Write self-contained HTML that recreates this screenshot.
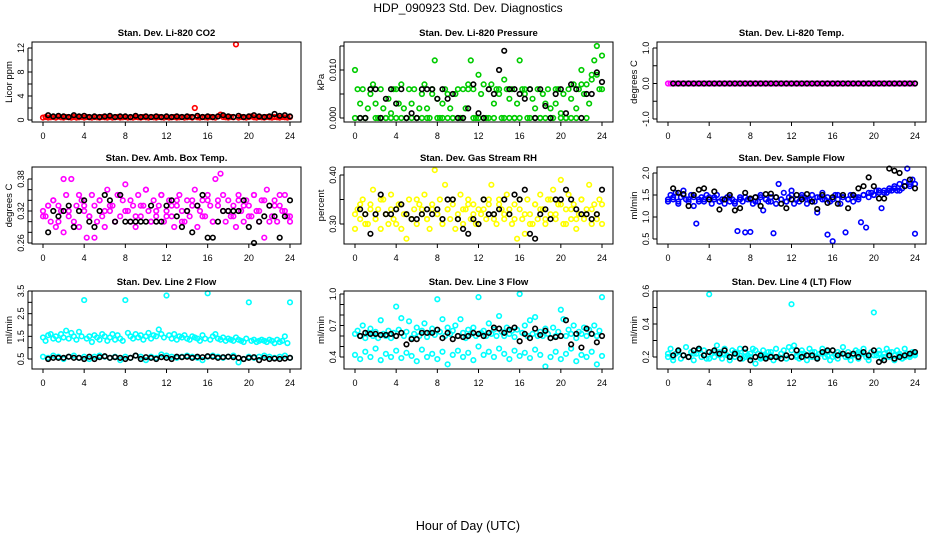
<!DOCTYPE html>
<html><head><meta charset="utf-8"><style>
body{margin:0;background:#fff}
svg{display:block;font-family:"Liberation Sans",sans-serif}
</style></head><body>
<svg id="chart" width="936" height="540" viewBox="0 0 936 540">
<text x="468" y="12" text-anchor="middle" font-size="12">HDP_090923  Std. Dev. Diagnostics</text>
<text x="468" y="530" text-anchor="middle" font-size="12.5">Hour of Day (UTC)</text>
</svg>
<script>
const xTicks=[0,4,8,12,16,20,24];
const co2Red=[0.4,0.5,0.4,0.45,0.5,0.4,0.55,0.45,0.4,0.5,0.45,0.4,0.5,0.4,0.45,0.5,0.4,0.5,0.45,0.4,0.5,0.45,0.4,0.5,0.45,0.4,0.5,0.4,0.45,0.5,0.4,0.45,0.5,0.4,0.45,0.4,0.5,0.45,0.4,0.5,0.45,0.4,0.5,0.45,0.4,0.5,0.45,0.4,0.5,0.4,0.45,0.5,0.4,0.45,0.5,0.4,0.45,0.5,0.4,2.0,0.45,0.4,0.5,0.45,0.4,0.5,0.45,0.4,0.6,0.9,0.5,0.45,0.4,0.5,0.45,12.6,0.4,0.5,0.45,0.4,0.5,0.6,0.45,0.4,0.5,0.45,0.4,0.5,0.45,0.4,0.5,0.45,0.4,0.5,0.45,0.4,0.5];
const co2Black=[0.8,0.6,0.7,0.6,0.5,0.8,0.6,0.7,0.5,0.6,0.5,0.6,0.7,0.5,0.6,0.6,0.5,0.7,0.5,0.6,0.5,0.6,0.5,0.6,0.5,0.6,0.5,0.6,0.5,0.7,0.5,0.6,0.5,0.6,0.8,0.6,0.5,0.7,0.5,0.6,0.8,0.6,0.5,0.6,1.0,0.7,0.8,0.6];
const presGreen=[0.010,0.006,0.003,0.006,0,0.002,0.005,0.007,0.003,0,0.006,0.002,0,0.004,0.001,0.006,0,0.003,0.007,0.002,0,0.006,0.003,0.006,0,0.002,0.005,0.007,0.002,0,0.006,0.012,0.004,0,0.003,0.006,0.005,0.002,0,0.005,0.006,0,0.006,0.002,0.007,0.012,0.006,0,0.009,0.005,0.007,0,0.006,0.007,0.003,0.006,0.005,0,0.008,0.006,0.004,0.006,0,0.003,0.012,0.006,0.005,0,0.006,0.004,0.002,0.006,0,0.005,0.003,0.006,0.002,0,0.003,0.006,0.001,0.005,0,0.006,0.004,0.007,0.002,0.006,0.010,0.005,0.007,0.003,0.009,0.012,0.015,0.006,0.013];
const presGreen2=[0,0,0,0.006,0,0,0,0,0.006,0,0,0,0,0,0,0.005,0,0,0,0,0,0,0.006,0,0,0,0,0,0.006,0,0,0,0,0.006,0,0,0,0,0,0.006,0,0,0,0,0.007,0,0.008,0.009,0.006];
const presBlack=[0,0,0.006,0.006,0,0.004,0.006,0.003,0.006,0,0.001,0,0.006,0.006,0.006,0.004,0.006,0.004,0.005,0,0,0.002,0.007,0.001,0,0.006,0.005,0.010,0.014,0.006,0.006,0.005,0.004,0.006,0,0.006,0.0025,0,0.005,0.006,0.001,0.007,0.006,0,0.005,0.005,0.0095,0.0075];
const tempMag=[0,0,0,0,0,0,0,0,0,0,0,0,0,0,0,0,0,0,0,0,0,0,0,0,0,0,0,0,0,0,0,0,0,0,0,0,0,0,0,0,0,0,0,0,0,0,0,0,0,0,0,0,0,0,0,0,0,0,0,0,0,0,0,0,0,0,0,0,0,0,0,0,0,0,0,0,0,0,0,0,0,0,0,0,0,0,0,0,0,0,0,0,0,0,0,0,0];
const tempBlack=[0,0,0,0,0,0,0,0,0,0,0,0,0,0,0,0,0,0,0,0,0,0,0,0,0,0,0,0,0,0,0,0,0,0,0,0,0,0,0,0,0,0,0,0,0,0,0,0];
const boxMag=[0.32,0.31,0.33,0.30,0.34,0.29,0.33,0.32,0.28,0.35,0.31,0.38,0.30,0.33,0.29,0.34,0.32,0.27,0.31,0.35,0.33,0.30,0.34,0.31,0.29,0.36,0.32,0.33,0.30,0.35,0.31,0.34,0.37,0.32,0.30,0.33,0.29,0.35,0.31,0.33,0.36,0.32,0.30,0.34,0.31,0.33,0.35,0.30,0.32,0.34,0.31,0.29,0.33,0.35,0.32,0.30,0.34,0.31,0.33,0.36,0.29,0.32,0.34,0.31,0.35,0.33,0.30,0.38,0.34,0.39,0.32,0.30,0.34,0.31,0.33,0.29,0.35,0.32,0.30,0.34,0.33,0.31,0.35,0.32,0.30,0.34,0.27,0.36,0.33,0.31,0.34,0.30,0.33,0.32,0.35,0.31,0.30];
const boxMag2=[0.31,0.33,0.34,0.30,0.38,0.32,0.29,0.35,0.33,0.31,0.27,0.34,0.32,0.33,0.30,0.35,0.32,0.34,0.31,0.33,0.36,0.30,0.32,0.35,0.31,0.33,0.34,0.30,0.32,0.34,0.33,0.31,0.34,0.30,0.33,0.35,0.32,0.31,0.34,0.33,0.31,0.35,0.32,0.34,0.30,0.33,0.35,0.32,0.31];
const boxBlack=[0.28,0.32,0.31,0.32,0.33,0.29,0.32,0.34,0.30,0.29,0.32,0.35,0.34,0.30,0.35,0.30,0.30,0.30,0.30,0.30,0.33,0.30,0.30,0.33,0.34,0.31,0.29,0.32,0.28,0.33,0.35,0.27,0.27,0.30,0.32,0.32,0.32,0.32,0.34,0.29,0.26,0.30,0.31,0.33,0.31,0.27,0.31,0.34];
const rhYel=[0.29,0.33,0.31,0.35,0.32,0.30,0.34,0.37,0.31,0.33,0.29,0.35,0.32,0.30,0.36,0.31,0.33,0.34,0.29,0.32,0.27,0.35,0.31,0.33,0.30,0.34,0.32,0.36,0.31,0.29,0.33,0.41,0.32,0.35,0.30,0.38,0.33,0.31,0.34,0.29,0.32,0.36,0.30,0.33,0.35,0.31,0.34,0.30,0.33,0.32,0.35,0.31,0.34,0.38,0.32,0.30,0.35,0.33,0.31,0.36,0.32,0.30,0.34,0.27,0.33,0.31,0.28,0.35,0.32,0.30,0.34,0.31,0.36,0.33,0.30,0.35,0.32,0.37,0.31,0.34,0.39,0.30,0.33,0.36,0.31,0.34,0.29,0.32,0.35,0.31,0.33,0.38,0.30,0.34,0.32,0.35,0.30];
const rhYel2=[0.32,0.34,0.30,0.33,0.31,0.35,0.32,0.33,0.30,0.34,0.32,0.31,0.35,0.33,0.31,0.34,0.32,0.30,0.33,0.35,0.31,0.33,0.34,0.32,0.30,0.33,0.35,0.31,0.34,0.32,0.33,0.31,0.35,0.32,0.30,0.34,0.33,0.31,0.35,0.32,0.34,0.30,0.33,0.31,0.35,0.32,0.33,0.31,0.34];
const rhBlack=[0.33,0.32,0.28,0.32,0.36,0.32,0.32,0.33,0.34,0.32,0.31,0.31,0.32,0.33,0.32,0.33,0.31,0.35,0.35,0.31,0.29,0.28,0.31,0.30,0.35,0.32,0.32,0.33,0.35,0.32,0.36,0.35,0.37,0.28,0.27,0.32,0.33,0.31,0.35,0.35,0.37,0.35,0.33,0.32,0.32,0.31,0.32,0.37];
const flowBlue=[1.35,1.5,1.4,1.55,1.3,1.45,1.6,1.4,1.35,1.5,1.25,0.85,1.4,1.45,1.35,1.5,1.4,1.3,1.45,1.5,1.35,1.4,1.3,1.45,1.35,1.4,1.3,0.68,1.45,1.35,0.65,1.4,0.66,1.3,1.45,1.35,1.5,1.15,1.4,1.35,1.45,0.63,1.3,1.75,1.4,1.55,1.35,1.45,1.6,1.3,1.4,1.35,1.5,1.45,1.3,1.4,1.5,1.35,1.1,1.45,1.55,1.4,0.6,1.35,0.45,1.5,1.4,1.3,1.45,0.65,1.4,1.5,1.35,1.45,1.4,0.88,1.5,0.76,1.45,1.55,1.5,1.6,1.55,1.2,1.6,1.55,1.65,1.6,1.7,1.6,1.75,1.65,1.8,2.1,1.75,1.85,0.62];
const flowBlue2=[1.4,1.45,1.35,1.5,1.4,1.45,1.35,1.4,1.45,1.4,1.35,1.4,1.45,1.35,1.4,1.45,1.4,1.35,1.45,1.4,1.35,1.45,1.4,1.35,1.5,1.4,1.45,1.4,1.35,1.45,1.4,1.45,1.4,1.5,1.45,1.4,1.5,1.45,1.5,1.55,1.5,1.6,1.55,1.6,1.65,1.6,1.7,1.7,1.75];
const flowBlack=[1.65,1.55,1.52,1.25,1.5,1.62,1.65,1.4,1.58,1.17,1.4,1.5,1.15,1.2,1.55,1.42,1.45,1.25,1.52,1.53,1.45,1.3,1.2,1.4,1.5,1.4,1.52,1.35,1.18,1.5,1.32,1.45,1.3,1.5,1.2,1.5,1.65,1.7,1.9,1.7,1.42,1.42,2.1,2.05,2.0,1.7,1.85,1.65];
const l2Cyan=[1.45,1.3,1.55,1.6,1.4,1.5,1.35,1.6,1.45,1.75,1.4,1.65,1.5,1.35,1.7,1.5,3.1,1.4,1.5,1.25,1.55,1.45,1.35,1.6,1.5,1.3,1.45,1.6,1.35,1.55,1.4,1.3,3.1,1.65,1.5,1.4,1.6,1.45,1.55,1.35,1.5,1.65,1.4,1.55,1.5,1.8,1.6,1.45,3.3,1.55,1.4,1.6,1.35,1.5,1.45,1.55,1.4,1.35,1.5,1.45,1.4,1.3,1.55,1.4,3.4,1.35,1.5,1.6,1.4,1.35,1.45,1.3,1.4,1.35,1.3,1.45,1.35,1.3,1.25,1.4,3.0,1.3,1.35,1.25,1.3,1.35,1.3,1.25,1.35,1.3,1.2,1.35,1.25,1.3,1.5,1.2,3.0];
const l2Cyan2=[0.6,0.55,0.65,0.6,0.5,0.6,0.65,0.55,0.6,0.5,0.6,0.65,0.6,0.55,0.6,0.45,0.6,0.55,0.65,0.6,0.45,0.6,0.55,0.7,0.65,0.6,0.55,0.6,0.65,0.6,0.55,0.45,0.6,0.65,0.6,0.55,0.6,0.65,0.35,0.5,0.6,0.55,0.6,0.65,0.6,0.55,0.6,0.65,0.55];
const l2Black=[0.5,0.55,0.55,0.55,0.6,0.55,0.55,0.5,0.6,0.5,0.58,0.62,0.55,0.58,0.55,0.5,0.55,0.65,0.5,0.58,0.55,0.5,0.58,0.55,0.5,0.6,0.58,0.6,0.55,0.6,0.58,0.62,0.6,0.55,0.58,0.6,0.58,0.55,0.5,0.55,0.58,0.45,0.55,0.5,0.52,0.5,0.52,0.55];
const l3Cyan=[0.62,0.65,0.6,0.7,0.58,0.63,0.67,0.6,0.64,0.58,0.75,0.62,0.6,0.65,0.58,0.63,0.88,0.66,0.77,0.6,0.64,0.74,0.58,0.62,0.68,0.6,0.65,0.72,0.59,0.63,0.67,0.61,0.95,0.64,0.76,0.6,0.68,0.62,0.65,0.7,0.6,0.76,0.63,0.58,0.66,0.62,0.68,0.6,0.97,0.63,0.65,0.6,0.72,0.62,0.66,0.6,0.79,0.64,0.6,0.68,0.62,0.65,0.59,0.66,1.0,0.63,0.7,0.6,0.75,0.62,0.78,0.6,0.64,0.6,0.67,0.62,0.58,0.68,0.6,0.64,0.85,0.76,0.6,0.66,0.62,0.7,0.58,0.64,0.62,0.68,0.6,0.66,0.62,0.7,0.6,0.65,0.97];
const l3Cyan2=[0.42,0.38,0.45,0.4,0.48,0.37,0.43,0.4,0.46,0.39,0.44,0.41,0.36,0.47,0.4,0.43,0.38,0.45,0.33,0.42,0.46,0.4,0.44,0.37,0.5,0.42,0.45,0.4,0.48,0.43,0.38,0.46,0.41,0.44,0.39,0.47,0.42,0.31,0.4,0.45,0.38,0.43,0.48,0.36,0.42,0.4,0.45,0.33,0.41];
const l3Black=[0.6,0.63,0.62,0.62,0.61,0.61,0.62,0.6,0.63,0.52,0.57,0.57,0.63,0.63,0.63,0.66,0.58,0.63,0.57,0.6,0.59,0.6,0.63,0.62,0.6,0.63,0.68,0.67,0.63,0.66,0.68,0.55,0.62,0.58,0.67,0.61,0.65,0.58,0.59,0.6,0.75,0.52,0.62,0.49,0.67,0.62,0.54,0.6];
const l4Cyan=[0.2,0.25,0.18,0.22,0.24,0.19,0.21,0.26,0.2,0.23,0.18,0.22,0.25,0.2,0.24,0.19,0.58,0.22,0.2,0.27,0.23,0.19,0.25,0.21,0.18,0.24,0.2,0.22,0.25,0.19,0.23,0.21,0.2,0.25,0.16,0.22,0.19,0.24,0.2,0.23,0.21,0.18,0.25,0.2,0.22,0.24,0.19,0.26,0.52,0.27,0.21,0.19,0.24,0.22,0.18,0.25,0.2,0.23,0.19,0.22,0.25,0.2,0.23,0.18,0.24,0.21,0.19,0.22,0.26,0.2,0.23,0.18,0.21,0.24,0.19,0.22,0.25,0.2,0.18,0.23,0.47,0.21,0.24,0.19,0.22,0.25,0.2,0.23,0.18,0.24,0.21,0.19,0.25,0.22,0.2,0.23,0.21];
const l4Cyan2=[0.22,0.2,0.23,0.21,0.2,0.22,0.24,0.21,0.19,0.23,0.21,0.22,0.2,0.23,0.21,0.2,0.22,0.24,0.2,0.21,0.23,0.2,0.22,0.21,0.24,0.2,0.22,0.21,0.23,0.2,0.22,0.21,0.2,0.23,0.22,0.2,0.21,0.23,0.22,0.2,0.21,0.22,0.2,0.23,0.21,0.22,0.2,0.21,0.22];
const l4Black=[0.21,0.24,0.21,0.2,0.24,0.25,0.21,0.23,0.24,0.22,0.24,0.2,0.22,0.19,0.25,0.18,0.2,0.21,0.19,0.2,0.2,0.19,0.21,0.2,0.24,0.2,0.21,0.21,0.19,0.23,0.24,0.24,0.21,0.22,0.21,0.22,0.2,0.23,0.21,0.24,0.17,0.18,0.21,0.19,0.2,0.21,0.22,0.23];

const NS='http://www.w3.org/2000/svg';
const svg=document.getElementById('chart');
function mk(tag,attrs,parent){const e=document.createElementNS(NS,tag);for(const k in attrs)e.setAttribute(k,attrs[k]);(parent||svg).appendChild(e);return e;}
const colX=[43,355,668], rowB=[[42,122],[167,244],[291,369]];
const panels=[
 {t:'Stan. Dev. Li-820 CO2',yl:'Licor ppm',c:'#ff0000',s:[co2Red],b:co2Black,y0:0,y0p:120,y1:12,y1p:48,ticks:[0,2,4,6,8,10,12],labs:[0,4,8,12],fmt:v=>String(v)},
 {t:'Stan. Dev. Li-820 Pressure',yl:'kPa',c:'#00cc00',s:[presGreen2,presGreen],b:presBlack,y0:0,y0p:118,y1:0.01,y1p:70,ticks:[0,0.005,0.01,0.015],labs:[0,0.01],fmt:v=>v.toFixed(3)},
 {t:'Stan. Dev. Li-820 Temp.',yl:'degrees C',c:'#ff00ff',s:[tempMag],b:tempBlack,y0:-1,y0p:119,y1:1,y1p:48,ticks:[-1,-0.5,0,0.5,1],labs:[-1,0,1],fmt:v=>v.toFixed(1)},
 {t:'Stan. Dev. Amb. Box Temp.',yl:'degrees C',c:'#ff00ff',s:[boxMag,boxMag2],b:boxBlack,y0:0.26,y0p:243,y1:0.38,y1p:179,ticks:[0.26,0.28,0.30,0.32,0.34,0.36,0.38],labs:[0.26,0.32,0.38],fmt:v=>v.toFixed(2)},
 {t:'Stan. Dev. Gas Stream RH',yl:'percent',c:'#ffff00',s:[rhYel,rhYel2],b:rhBlack,y0:0.30,y0p:224,y1:0.40,y1p:175,ticks:[0.30,0.35,0.40],labs:[0.30,0.40],fmt:v=>v.toFixed(2)},
 {t:'Stan. Dev. Sample Flow',yl:'ml/min',c:'#0000ff',s:[flowBlue,flowBlue2],b:flowBlack,y0:0.5,y0p:239,y1:2.0,y1p:173,ticks:[0.5,1,1.5,2],labs:[0.5,1,1.5,2],fmt:v=>v.toFixed(1)},
 {t:'Stan. Dev. Line 2 Flow',yl:'ml/min',c:'#00ffff',s:[l2Cyan,l2Cyan2],b:l2Black,y0:0.5,y0p:359,y1:3.5,y1p:291,ticks:[0.5,1,1.5,2,2.5,3,3.5],labs:[0.5,1.5,2.5,3.5],fmt:v=>v.toFixed(1)},
 {t:'Stan. Dev. Line 3 Flow',yl:'ml/min',c:'#00ffff',s:[l3Cyan,l3Cyan2],b:l3Black,y0:0.4,y0p:357,y1:1.0,y1p:294,ticks:[0.4,0.5,0.6,0.7,0.8,0.9,1.0],labs:[0.4,0.7,1.0],fmt:v=>v.toFixed(1)},
 {t:'Stan. Dev. Line 4 (LT) Flow',yl:'ml/min',c:'#00ffff',s:[l4Cyan,l4Cyan2],b:l4Black,y0:0.2,y0p:357,y1:0.6,y1p:291,ticks:[0.2,0.3,0.4,0.5,0.6],labs:[0.2,0.4,0.6],fmt:v=>v.toFixed(1)}
];
panels.forEach((p,i)=>{
 const col=i%3,row=Math.floor(i/3);
 const x0=colX[col],xs=x=>x0+x*(247/24);
 const top=rowB[row][0],bot=rowB[row][1],L=x0-11,R=x0+247+11;
 const ys=v=>p.y0p+(v-p.y0)*(p.y1p-p.y0p)/(p.y1-p.y0);
 const g=mk('g',{});
 
 
 const tt=mk('text',{x:(L+R)/2,y:top-6,'text-anchor':'middle','font-size':'9.5','font-weight':'bold'},g);tt.textContent=p.t;
 
 
 const yl=mk('text',{x:0,y:0,'text-anchor':'middle','font-size':'9.5',transform:`translate(${L-20},${(top+bot)/2}) rotate(-90)`},g);yl.textContent=p.yl;
 
 
 p.s.forEach(arr=>{const n=arr.length;arr.forEach((v,k)=>{const c=mk('circle',{cx:xs(k*24/(n-1)),cy:ys(v),r:2.3,fill:'none',stroke:p.c,'stroke-width':1.6},g);
  
  });});
 p.b.forEach((v,k)=>{const c=mk('circle',{cx:xs(0.5+k*23.5/(p.b.length-1)),cy:ys(v),r:2.3,fill:'none',stroke:'#000','stroke-width':1.6},g);
  
  });
 const box=mk('rect',{x:L,y:top,width:R-L,height:bot-top,fill:'none',stroke:'#000','stroke-width':1},g);
 
 
 xTicks.forEach(t=>{const X=xs(t);mk('line',{x1:X,x2:X,y1:bot,y2:bot+4,stroke:'#000'},g);
  const tx=mk('text',{x:X,y:bot+17,'text-anchor':'middle','font-size':'9'},g);tx.textContent=t;
  
  });
 p.ticks.forEach(t=>{const Y=ys(t);mk('line',{x1:L-4,x2:L,y1:Y,y2:Y,stroke:'#000'},g);});
 mk('line',{x1:L-4,x2:L-4,y1:ys(p.ticks[0]),y2:ys(p.ticks[p.ticks.length-1]),stroke:'#000'},g);
 p.labs.forEach(t=>{const Y=ys(t);const tx=mk('text',{x:0,y:0,'text-anchor':'middle','font-size':'9',transform:`translate(${L-8},${Y}) rotate(-90)`},g);tx.textContent=p.fmt(t);
  
  });
});
</script>
</body></html>
